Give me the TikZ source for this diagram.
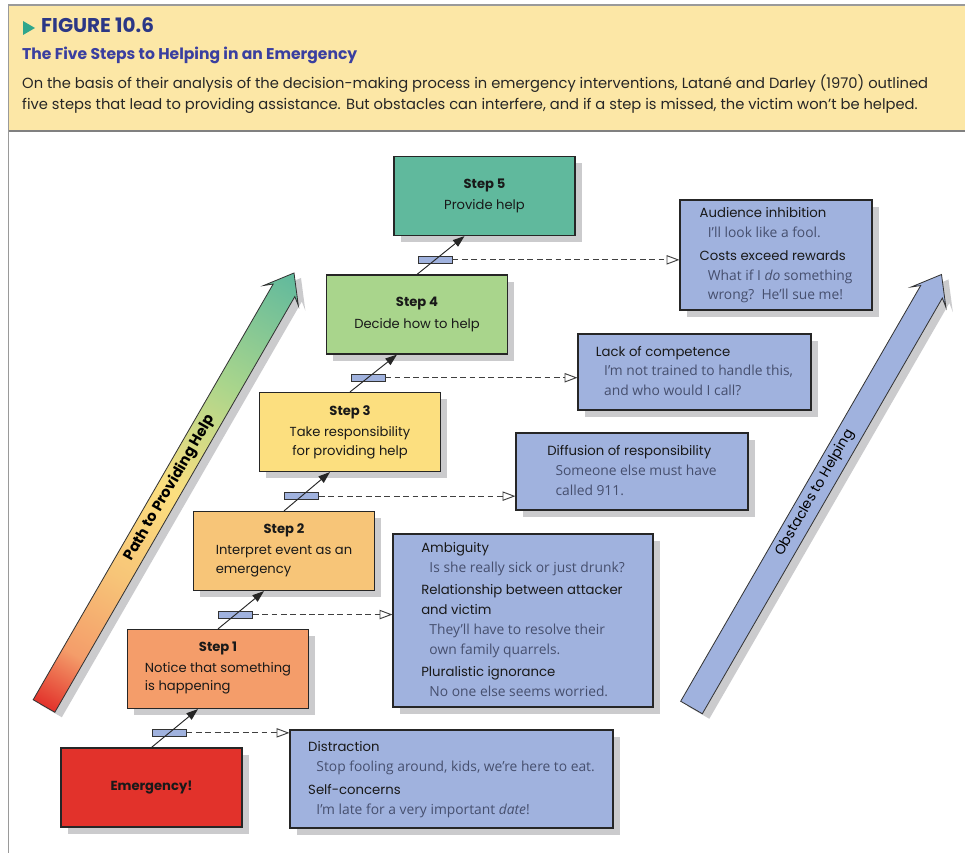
\documentclass[tikz,border=0pt]{standalone}
\usepackage{fontspec}
\setmainfont{Poppins}
\newfontfamily\quotefont{Open Sans}
\usetikzlibrary{arrows.meta,shadows}

\definecolor{headfill}{HTML}{FCE7A6}
\definecolor{framegray}{HTML}{9A9A9A}
\definecolor{figteal}{HTML}{2FA68C}
\definecolor{fignavy}{HTML}{2B3786}
\definecolor{titleblue}{HTML}{3A3FA0}
\definecolor{emergred}{HTML}{E2322B}
\definecolor{stepone}{HTML}{F49D6A}
\definecolor{steptwo}{HTML}{F7C578}
\definecolor{stepthree}{HTML}{FCDF7F}
\definecolor{stepfour}{HTML}{A9D58C}
\definecolor{stepfive}{HTML}{60B99D}
\definecolor{obstfill}{HTML}{A0B2DE}
\definecolor{quotegray}{HTML}{464F6E}
\definecolor{shadowgray}{HTML}{CBCBCD}

\pgfdeclarehorizontalshading{pathgrad}{100bp}{color(0bp)=(emergred); color(25bp)=(emergred); color(31bp)=(stepone); color(40bp)=(steptwo); color(50bp)=(stepthree); color(62bp)=(stepfour); color(75bp)=(stepfive); color(100bp)=(stepfive)}

\newcommand{\leftblock}[1]{\begin{tabular}[t]{@{}l@{}}#1\end{tabular}}
\newcommand{\obstquote}[1]{\hspace*{7pt}{\quotefont\fontsize{11.8}{17}\selectfont\color{quotegray}#1}}

\begin{document}
\begin{tikzpicture}[x=0.3mm,y=-0.3mm,font=\fontsize{11.2}{15.5}\selectfont,
  stepbox/.style={draw=black!85,line width=1pt,minimum width=54.3mm,minimum height=23.7mm,align=center,inner sep=2pt,text=black!90,drop shadow={shadow xshift=2mm,shadow yshift=-2mm,fill=shadowgray,opacity=1}},
  obstbox/.style={draw=black!85,line width=1pt,fill=obstfill,inner sep=0pt,text=black!90,font=\fontsize{11.3}{17}\selectfont,drop shadow={shadow xshift=2mm,shadow yshift=-2mm,fill=shadowgray,opacity=1}},
  steparrow/.style={draw=black!85,line width=0.8pt,-{Triangle[length=10pt,width=7pt]}},
  gate/.style={draw=black!80,fill=obstfill,line width=0.6pt,minimum width=10.2mm,minimum height=2.1mm,inner sep=0pt,pos=0.38,behind path},
  dashlink/.style={draw=black!75,line width=0.8pt,dash pattern=on 5pt off 3pt,-{Triangle[open,length=11pt,width=8pt,fill=white]}},
  bigarrow/.style={draw=black!80,line width=0.7pt}]
\fill[white] (0,0) rectangle (965,853);
\useasboundingbox (0,0) rectangle (965,853);
% header panel
\fill[headfill] (8.5,5) rectangle (965,131);
\draw[framegray,line width=1pt] (965,5) -- (8.5,5) -- (8.5,853);
\draw[black!50,line width=2pt] (8.5,131) -- (965,131);
\fill[figteal] (23,21) -- (35,28) -- (23,35) -- cycle;
\node[anchor=base west,inner sep=0pt,font=\fontsize{17}{19}\selectfont\bfseries,text=fignavy] (fignum) at (41,33) {FIGURE 10.6};
\node[anchor=base west,inner sep=0pt,font=\fontsize{13.3}{15}\selectfont\bfseries,text=titleblue] (figtitle) at (22,59) {The Five Steps to Helping in an Emergency};
\node[anchor=base west,inner sep=0pt,font=\fontsize{12.55}{14}\selectfont,text=black!85] (caption1) at (22,88) {On the basis of their analysis of the decision-making process in emergency interventions, Latané and Darley (1970) outlined};
\node[anchor=base west,inner sep=0pt,font=\fontsize{12.55}{14}\selectfont,text=black!85] (caption2) at (22,109) {five steps that lead to providing assistance. But obstacles can interfere, and if a step is missed, the victim won’t be helped.};
% the two long arrows
\begin{scope}[transform canvas={shift={(51,711)},rotate=60}]
\fill[shadowgray] (0,-12.5) -- (480,-12.5) -- (474,-20) -- (500,0) -- (474,20) -- (480,12.5) -- (0,12.5) -- cycle;
\end{scope}
\begin{scope}[transform canvas={shift={(44,706)},rotate=60}]
\shadedraw[bigarrow,shading=pathgrad] (0,-12.5) -- (480,-12.5) -- (474,-20) -- (500,0) -- (474,20) -- (480,12.5) -- (0,12.5) -- cycle;
\end{scope}
\begin{scope}[transform canvas={shift={(698.5,712.5)},rotate=60}]
\fill[shadowgray] (0,-12.5) -- (480,-12.5) -- (474,-20) -- (500,0) -- (474,20) -- (480,12.5) -- (0,12.5) -- cycle;
\end{scope}
\begin{scope}[transform canvas={shift={(691.5,707.5)},rotate=60}]
\filldraw[bigarrow,fill=obstfill] (0,-12.5) -- (480,-12.5) -- (474,-20) -- (500,0) -- (474,20) -- (480,12.5) -- (0,12.5) -- cycle;
\end{scope}
\node[rotate=60,font=\fontsize{12.5}{14}\selectfont\bfseries] (pathlabel) at (170,488) {Path to Providing Help};
\node[rotate=60,font=\fontsize{11.8}{14}\selectfont] (obstlabel) at (815,493) {Obstacles to Helping};
% steps
\node[stepbox,fill=emergred] (emerg) at (151.5,787.5) {\textbf{Emergency!}};
\node[stepbox,fill=stepone] (step1) at (218,669) {\textbf{Step 1}\\[3pt]\leftblock{Notice that something\\is happening}};
\node[stepbox,fill=steptwo] (step2) at (284,551) {\textbf{Step 2}\\[3pt]\leftblock{Interpret event as an\\emergency}};
\node[stepbox,fill=stepthree] (step3) at (350,432) {\textbf{Step 3}\\[3pt]Take responsibility\\for providing help};
\node[stepbox,fill=stepfour] (step4) at (417,314.5) {\textbf{Step 4}\\[3pt]Decide how to help};
\node[stepbox,fill=stepfive] (step5) at (484.5,196) {\textbf{Step 5}\\[3pt]Provide help};
% obstacles
\node[obstbox,minimum width=57.6mm,minimum height=33mm] (audience) at (776,255) {\begin{tabular}{@{}l@{}}Audience inhibition\\\obstquote{I’ll look like a fool.}\\[2pt]Costs exceed rewards\\\obstquote{What if I \textit{do} something}\\\obstquote{wrong?\ \ He’ll sue me!}\end{tabular}};
\node[obstbox,minimum width=69.9mm,minimum height=22.8mm] (compet) at (694.5,372) {\begin{tabular}{@{}l@{}}Lack of competence\\\obstquote{I’m not trained to handle this,}\\\obstquote{and who would I call?}\end{tabular}};
\node[obstbox,minimum width=69.6mm,minimum height=23.1mm] (diffus) at (632,471.5) {\begin{tabular}{@{}l@{}}Diffusion of responsibility\\\obstquote{Someone else must have}\\\obstquote{called 911.}\end{tabular}};
\node[obstbox,minimum width=78mm,minimum height=51.9mm] (ambig) at (523,620.5) {\begin{tabular}{@{}l@{}}Ambiguity\\\obstquote{Is she really sick or just drunk?}\\[2pt]Relationship between attacker\\and victim\\\obstquote{They’ll have to resolve their}\\\obstquote{own family quarrels.}\\[2pt]Pluralistic ignorance\\\obstquote{No one else seems worried.}\end{tabular}};
\node[obstbox,minimum width=96.9mm,minimum height=29.4mm] (distract) at (451.5,779) {\begin{tabular}{@{}l@{}}Distraction\\\obstquote{Stop fooling around, kids, we’re here to eat.}\\[2pt]Self-concerns\\\obstquote{I’m late for a very important \textit{date}!}\end{tabular}};
% connectors
\foreach \lo/\hi/\ob in {emerg/step1/distract,step1/step2/ambig,step2/step3/diffus,step3/step4/compet,step4/step5/audience}{
  \draw[steparrow] (\lo.north) -- node[gate] (gate-\lo) {} ([xshift=-6mm]\hi.south);
  \draw[dashlink] (gate-\lo.east) -- (gate-\lo.east -| \ob.west);
}
\end{tikzpicture}
\end{document}
